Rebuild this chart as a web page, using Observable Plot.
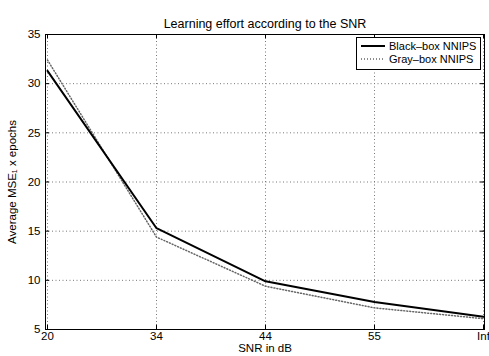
<!DOCTYPE html>
<html>
<head>
<meta charset="utf-8">
<script src="https://cdn.jsdelivr.net/npm/d3@7"></script>
<script src="https://cdn.jsdelivr.net/npm/@observablehq/plot@0.6"></script>
<style>
  body { margin: 0; background: #fff; }
  #wrap { position: relative; width: 489px; height: 356px; font-family: "Liberation Sans", Arial, sans-serif; }
  #legend { position: absolute; left: 356px; top: 37px; width: 123px; height: 31px; border: 1px solid #000; background: #fff; font-size: 11px; }
  #legend .row { position: absolute; left: 4px; height: 14px; display: flex; align-items: center; }
  #legend svg { margin-right: 4px; }
</style>
</head>
<body>
<div id="wrap"></div>
<script>
const snrLabels = ["20", "34", "44", "55", "Inf"];
const blackBox = [31.3, 15.3, 9.9, 7.8, 6.3];
const grayBox = [32.4, 14.4, 9.4, 7.2, 6.1];
const yTicks = [5, 10, 15, 20, 25, 30, 35];
const seriesNames = ["Black–box NNIPS", "Gray–box NNIPS"];

const black = snrLabels.map((s, i) => ({snr: s, v: blackBox[i]}));
const gray = snrLabels.map((s, i) => ({snr: s, v: grayBox[i]}));

const frameW = 489 - 45 - 5;

const chart = Plot.plot({
  width: 489,
  height: 356,
  marginLeft: 45,
  marginRight: 5,
  marginTop: 34,
  marginBottom: 27,
  style: {fontFamily: "'Liberation Sans', Arial, sans-serif", fontSize: "11px", color: "#000", background: "#fff"},
  x: {type: "point", domain: snrLabels, padding: 0, label: null},
  y: {domain: [5, 35], ticks: yTicks, label: null},
  marks: [
    Plot.gridX(snrLabels, {stroke: "#777", strokeOpacity: 1, strokeDasharray: "1,2.5"}),
    Plot.gridY(yTicks, {stroke: "#777", strokeOpacity: 1, strokeDasharray: "1,2.5"}),
    Plot.axisX(snrLabels, {tickSize: 0, tickPadding: 2, fontSize: 11.5}),
    Plot.axisY(yTicks, {tickSize: 0, tickPadding: 5, fontSize: 11.5}),
    Plot.ruleX(snrLabels, {x: d => d, y1: 5, y2: 5.45, stroke: "#000"}),
    Plot.ruleX(snrLabels, {x: d => d, y1: 34.55, y2: 35, stroke: "#000"}),
    Plot.tickY(yTicks, {y: d => d, insetRight: frameW - 4, stroke: "#000"}),
    Plot.tickY(yTicks, {y: d => d, insetLeft: frameW - 4, stroke: "#000"}),
    Plot.frame({stroke: "#000"}),
    Plot.line(gray, {x: "snr", y: "v", stroke: "#666", strokeWidth: 1.5, strokeDasharray: "1,2"}),
    Plot.line(black, {x: "snr", y: "v", stroke: "#000", strokeWidth: 2}),
    Plot.text(["Learning effort according to the SNR"], {frameAnchor: "top", dy: -15, fontSize: 12.5, fill: "#000"}),
    Plot.text(["SNR in dB"], {frameAnchor: "bottom", dy: 22, fontSize: 11.5, fill: "#000"}),
    Plot.text(["Average MSE₁ x epochs"], {frameAnchor: "left", dx: -33, rotate: -90, textAnchor: "middle", fontSize: 11.5, fill: "#000"})
  ]
});
document.getElementById("wrap").appendChild(chart);

const legend = document.createElement("div");
legend.id = "legend";
const styles = [{stroke: "#000", w: 2, dash: ""}, {stroke: "#666", w: 1.5, dash: "1,2"}];
seriesNames.forEach((name, i) => {
  const row = document.createElement("div");
  row.className = "row";
  row.style.top = (i === 0 ? 1 : 14) + "px";
  row.innerHTML = `<svg width="24" height="6"><line x1="0" y1="3" x2="24" y2="3" stroke="${styles[i].stroke}" stroke-width="${styles[i].w}" stroke-dasharray="${styles[i].dash}"/></svg><span>${name}</span>`;
  legend.appendChild(row);
});
document.getElementById("wrap").appendChild(legend);
</script>
</body>
</html>
